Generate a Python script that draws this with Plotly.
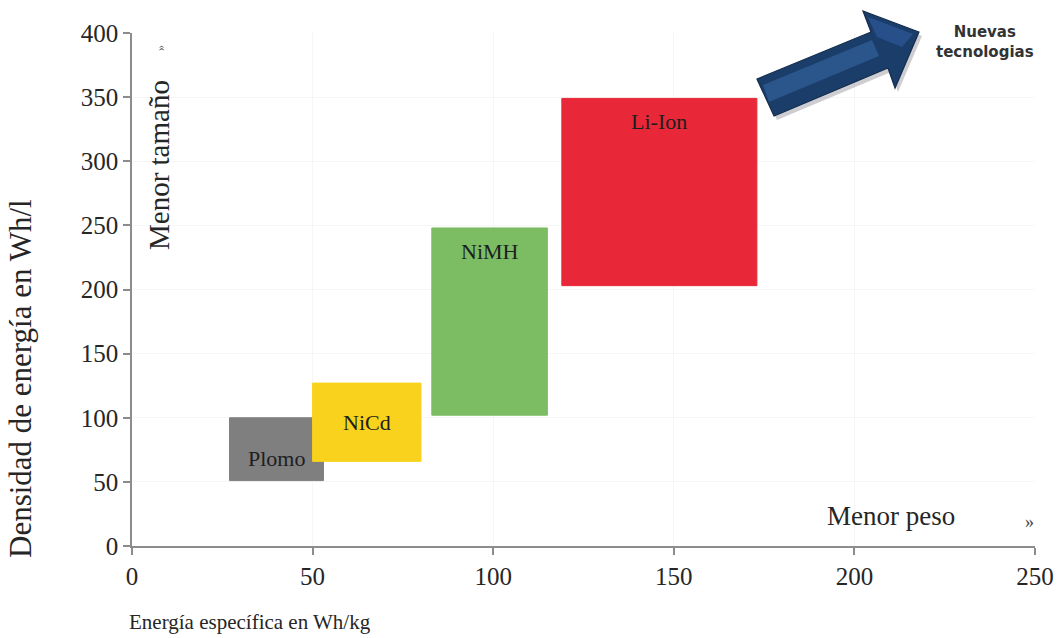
import plotly.graph_objects as go

# Battery technologies: specific energy (Wh/kg) and energy density (Wh/l) ranges
tecnologias = ["Plomo", "NiCd", "NiMH", "Li-Ion"]
energia_min = [27, 50, 83, 119]      # Wh/kg
energia_max = [53, 80, 115, 173]     # Wh/kg
densidad_min = [51, 66, 102, 203]    # Wh/l
densidad_max = [100, 127, 248, 349]  # Wh/l
colores = ["#7f7f7f", "#f8d21c", "#7cbd63", "#e82838"]

x_ticks = [0, 50, 100, 150, 200, 250]
y_ticks = [0, 50, 100, 150, 200, 250, 300, 350, 400]

SERIF = "Liberation Serif, Times New Roman, serif"
SANS = "DejaVu Sans, Arial, sans-serif"
INK = "#262626"

fig = go.Figure()

for nombre, x0, x1, y0, y1, c in zip(tecnologias, energia_min, energia_max,
                                      densidad_min, densidad_max, colores):
    fig.add_trace(go.Scatter(
        x=[x0, x1, x1, x0, x0], y=[y0, y0, y1, y1, y0],
        mode="lines", fill="toself", fillcolor=c,
        line=dict(color=c, width=1), name=nombre, showlegend=False,
        hoverinfo="name",
    ))

# Box labels
label_font = dict(family=SERIF, size=22, color="#1e1e1e")
for nombre, x0, x1, y0, y1 in zip(tecnologias, energia_min, energia_max,
                                   densidad_min, densidad_max):
    cx = (x0 + x1) / 2
    if nombre == "Plomo":
        ya, yanchor, ys = (y0 + y1) / 2, "middle", -9
    elif nombre == "NiCd":
        ya, yanchor, ys = (y0 + y1) / 2, "middle", 0
    else:
        ya, yanchor, ys = y1, "top", -9
    fig.add_annotation(x=cx, y=ya, text=nombre, showarrow=False,
                       yanchor=yanchor, yshift=ys, font=label_font)

# Plot area geometry in pixels (for decorative elements in paper coords)
W, H = 1058, 638
L, R, T, B = 132, 23, 33, 92
PW, PH = W - L - R, H - T - B


def px(xp, yp):
    return (xp - L) / PW, (H - B - yp) / PH


def path(points):
    pts = [px(a, b) for a, b in points]
    return "M " + " L ".join(f"{a:.4f},{b:.4f}" for a, b in pts) + " Z"


# "Nuevas tecnologias" arrow
arrow_pts = [(757, 79), (871, 32), (863, 11), (919, 32), (895, 88), (888, 68), (774, 116)]
shadow_pts = [(a + 3, b + 4) for a, b in arrow_pts]
fig.add_shape(type="path", xref="paper", yref="paper", path=path(shadow_pts),
              fillcolor="rgba(30,30,50,0.22)", line=dict(width=0), layer="above")
fig.add_shape(type="path", xref="paper", yref="paper", path=path(arrow_pts),
              fillcolor="#1b3d69", line=dict(color="#132d4e", width=1.2), layer="above")
# lighter bevel faces on the shaft and head
fig.add_shape(type="path", xref="paper", yref="paper",
              path=path([(763, 85), (872, 40), (879, 56), (769, 102)]),
              fillcolor="#2a568b", line=dict(width=0), layer="above")
fig.add_shape(type="path", xref="paper", yref="paper",
              path=path([(868, 17), (913, 34), (902, 47), (877, 37)]),
              fillcolor="#27508a", line=dict(width=0), layer="above")

fig.add_annotation(xref="paper", yref="paper", x=px(985, 0)[0], y=px(0, 42)[1],
                   text="<b>Nuevas<br>tecnologias</b>", showarrow=False,
                   font=dict(family=SANS, size=15, color="#333333"),
                   align="center", xanchor="center", yanchor="middle")

# Axis titles and direction hints
fig.add_annotation(xref="paper", yref="paper", x=px(20, 0)[0], y=px(0, 379)[1],
                   text="Densidad de energía en Wh/l", textangle=-90, showarrow=False,
                   font=dict(family=SERIF, size=31, color=INK),
                   xanchor="center", yanchor="middle")
fig.add_annotation(xref="paper", yref="paper", x=px(127, 0)[0], y=px(0, 622)[1],
                   text="Energía específica en Wh/kg", showarrow=False,
                   font=dict(family=SERIF, size=21, color=INK),
                   xanchor="left", yanchor="middle")
fig.add_annotation(xref="paper", yref="paper", x=px(159, 0)[0], y=px(0, 165)[1],
                   text="Menor tamaño", textangle=-90, showarrow=False,
                   font=dict(family=SERIF, size=29, color=INK),
                   xanchor="center", yanchor="middle")
fig.add_annotation(xref="paper", yref="paper", x=px(160, 0)[0], y=px(0, 48)[1],
                   text="»", textangle=-90, showarrow=False,
                   font=dict(family=SERIF, size=12, color="#555555"),
                   xanchor="center", yanchor="middle")
fig.add_annotation(xref="paper", yref="paper", x=px(891, 0)[0], y=px(0, 516)[1],
                   text="Menor peso", showarrow=False,
                   font=dict(family=SERIF, size=27, color=INK),
                   xanchor="center", yanchor="middle")
fig.add_annotation(xref="paper", yref="paper", x=px(1029, 0)[0], y=px(0, 522)[1],
                   text="»", showarrow=False,
                   font=dict(family=SERIF, size=18, color="#444444"),
                   xanchor="center", yanchor="middle")

axis_common = dict(
    showline=True, linecolor="#8c8c8c", linewidth=1.5,
    ticks="outside", ticklen=7, tickcolor="#8c8c8c", tickwidth=1.5,
    showgrid=True, gridcolor="#f6f6f6", gridwidth=1,
    zeroline=False, automargin=False,
    tickfont=dict(family=SERIF, size=25, color=INK),
)

fig.update_layout(
    width=W, height=H,
    margin=dict(l=L, r=R, t=T, b=B, autoexpand=False),
    paper_bgcolor="white", plot_bgcolor="white",
    xaxis=dict(range=[0, 250], tickvals=x_ticks, **axis_common),
    yaxis=dict(range=[0, 400], tickvals=y_ticks, **axis_common),
    showlegend=False,
)

fig.write_html("out.html")
